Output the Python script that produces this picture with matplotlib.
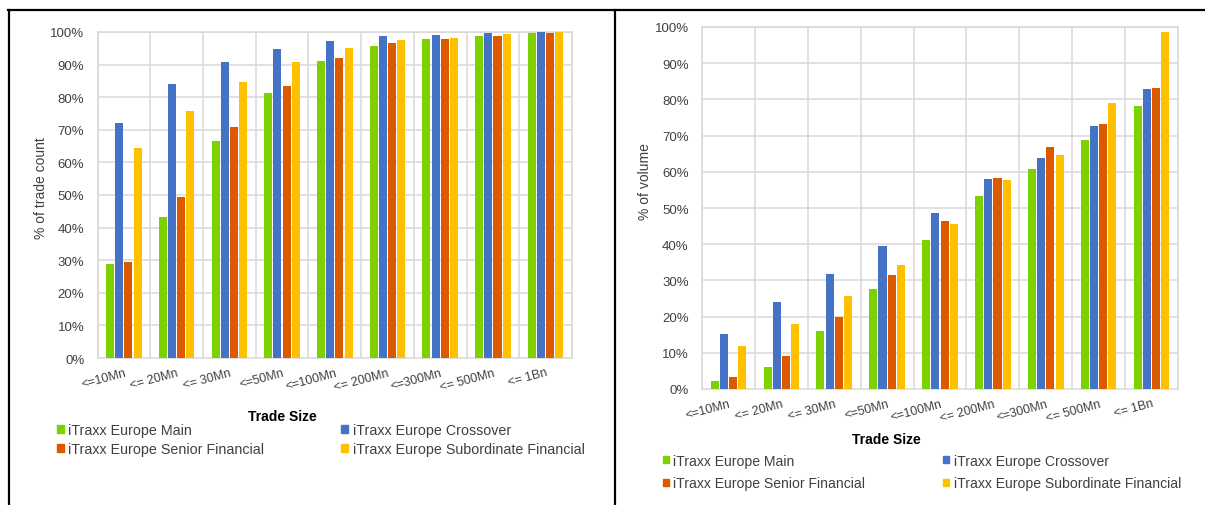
import matplotlib.pyplot as plt
import numpy as np
from matplotlib.lines import Line2D
from matplotlib.patches import Patch

plt.rcParams["font.family"] = ["Liberation Sans", "DejaVu Sans"]

# ---- data ----
trade_sizes = ["<=10Mn", "<= 20Mn", "<= 30Mn", "<=50Mn", "<=100Mn",
               "<= 200Mn", "<=300Mn", "<= 500Mn", "<= 1Bn"]
series_names = ["iTraxx Europe Main", "iTraxx Europe Crossover",
                "iTraxx Europe Senior Financial", "iTraxx Europe Subordinate Financial"]
colors = ["#7ED100", "#4472C4", "#DD5900", "#FFC000"]

# cumulative % of trade count
count_main = [28.8, 43.3, 66.5, 81.2, 91.0, 95.8, 97.7, 98.8, 99.6]
count_xover = [72.1, 84.0, 90.8, 94.8, 97.1, 98.8, 99.1, 99.6, 99.9]
count_senior = [29.5, 49.5, 70.9, 83.3, 92.1, 96.5, 98.0, 98.8, 99.7]
count_sub = [64.3, 75.9, 84.6, 90.7, 95.0, 97.4, 98.3, 99.4, 100.0]

# cumulative % of volume
vol_main = [2.1, 6.0, 16.0, 27.5, 41.2, 53.3, 60.9, 68.8, 78.3]
vol_xover = [15.3, 24.0, 31.8, 39.5, 48.6, 58.0, 63.9, 72.7, 82.8]
vol_senior = [3.3, 9.0, 20.0, 31.5, 46.3, 58.3, 66.8, 73.3, 83.1]
vol_sub = [11.8, 17.9, 25.6, 34.3, 45.6, 57.6, 64.6, 78.9, 98.6]

W, H = 1205, 506
fig = plt.figure(figsize=(W / 100, H / 100), dpi=100)

GRID = "#D9D9D9"
TXT = "#404040"


def px_axes(x0, y0, x1, y1):
    # axes placed from pixel box (top-left origin)
    return fig.add_axes([x0 / W, (H - y1) / H, (x1 - x0) / W, (y1 - y0) / H])


def draw_panel(ax, series, ylabel, ylab_pos, xlab_pos, leg_pos, leg_spacing,
               leg_size, leg_colsp):
    x = np.arange(len(trade_sizes))
    step, width = 0.174, 0.152
    for i, vals in enumerate(series):
        ax.bar(x + (i - 1.5) * step, vals, width, color=colors[i], zorder=3)

    ax.set_xlim(-0.5, len(trade_sizes) - 0.5)
    ax.set_ylim(0, 100)
    ax.set_yticks(np.arange(0, 101, 10))
    ax.set_yticklabels([f"{v}%" for v in range(0, 101, 10)])
    ax.set_xticks(x)
    ax.set_xticklabels(trade_sizes, rotation=15, ha="right", va="top",
                       rotation_mode="anchor")
    ax.tick_params(axis="both", length=0, colors=TXT)
    ax.tick_params(axis="y", pad=9.5, labelsize=9.5)
    ax.tick_params(axis="x", pad=6, labelsize=9)

    # horizontal and category-boundary gridlines
    for v in range(10, 101, 10):
        ax.axhline(v, color=GRID, lw=1.1, zorder=1)
    for b in np.arange(-0.5, len(trade_sizes), 1.0):
        ax.axvline(b, color=GRID, lw=1.1, zorder=1)
    for s in ax.spines.values():
        s.set_color(GRID)
        s.set_linewidth(1.1)

    fig.text(ylab_pos[0] / W, 1 - ylab_pos[1] / H, ylabel, rotation=90,
             ha="center", va="center", fontsize=10, color=TXT)
    fig.text(xlab_pos[0] / W, 1 - xlab_pos[1] / H, "Trade Size",
             ha="center", va="center", fontsize=10, fontweight="bold", color="black")

    order = [0, 2, 1, 3]
    handles = [Patch(color=colors[i]) for i in order]
    labels = [series_names[i] for i in order]
    fig.legend(handles, labels, ncol=2, loc="center left",
               bbox_to_anchor=(leg_pos[0] / W, 1 - leg_pos[1] / H),
               bbox_transform=fig.transFigure, frameon=False,
               borderpad=0, borderaxespad=0, fontsize=leg_size,
               handlelength=0.48, handleheight=0.48, handletextpad=0.3,
               columnspacing=leg_colsp, labelspacing=leg_spacing,
               labelcolor=TXT)


ax1 = px_axes(97.5, 33, 572, 359)
draw_panel(ax1, [count_main, count_xover, count_senior, count_sub],
           "% of trade count", (41, 188), (282, 417), (57, 440.5), 0.38,
           10.3, 5.4)

ax2 = px_axes(702, 28, 1178, 390)
draw_panel(ax2, [vol_main, vol_xover, vol_senior, vol_sub],
           "% of volume", (645, 182), (886, 440), (662.5, 473), 0.64,
           10.1, 5.5)

# black panel frame
def px_line(x0, y0, x1, y1):
    fig.add_artist(Line2D([x0 / W, x1 / W], [1 - y0 / H, 1 - y1 / H],
                          transform=fig.transFigure, color="black", lw=1.6))


px_line(8, 11, W, 11)
px_line(9, 11, 9, H)
px_line(615, 11, 615, H)

fig.savefig("out.png", dpi=100)
